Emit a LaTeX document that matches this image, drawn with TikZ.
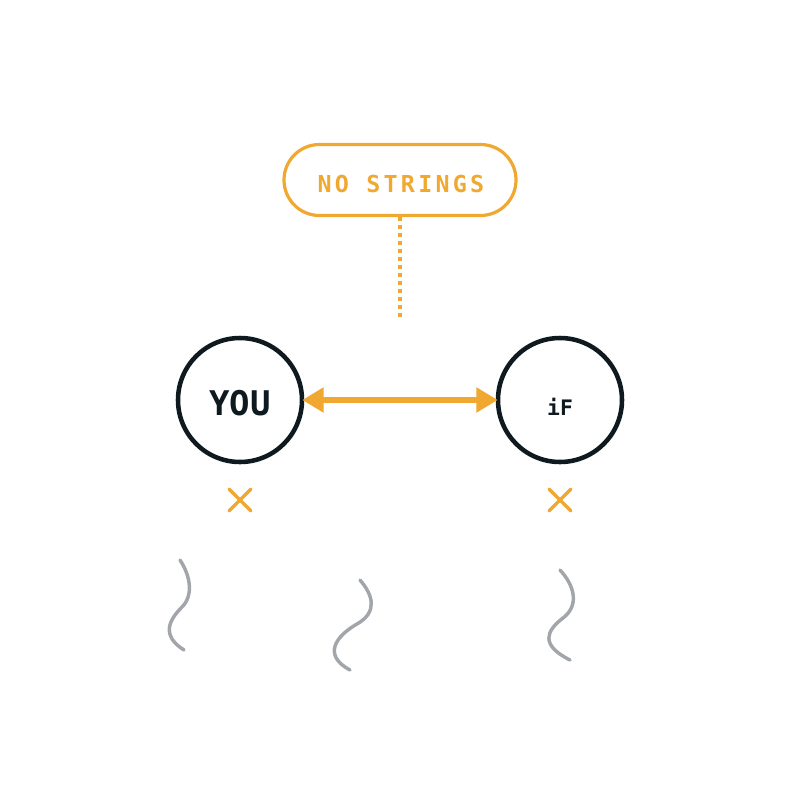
\documentclass[tikz,border=0pt]{standalone}
\usepackage{fontspec}
\setmonofont{DejaVu Sans Mono}
\usetikzlibrary{arrows.meta}
\definecolor{orng}{HTML}{F0A830}
\definecolor{dark}{HTML}{0F1A20}
\definecolor{grayw}{HTML}{A2A6AA}
\begin{document}
\begin{tikzpicture}[x=0.75pt,y=-0.75pt,
  pill/.style={draw=orng,line width=2.4pt,rounded corners=26.6pt,minimum width=174pt,minimum height=53.25pt},
  pilltext/.style={text=orng,font=\ttfamily\bfseries\fontsize{17.5}{18}\selectfont\addfontfeature{LetterSpace=14}},
  person/.style={circle,draw=dark,line width=3.4pt,minimum size=93pt,inner sep=0pt},
  persontext/.style={text=dark,inner sep=0pt},
  xmark/.style={draw=orng,line width=2.6pt,line cap=round},
  wave/.style={draw=grayw,line width=2.6pt,line cap=round},
  link/.style={draw=orng,line width=5pt,{Triangle[length=16pt,width=18pt]}-{Triangle[length=16pt,width=18pt]},shorten <=-1.5pt,shorten >=-1.5pt}
]
\useasboundingbox (0,0) rectangle (800,800);
\node[pill] (ns) at (400,180) {};
\node[pilltext] (nst) at (401,184) {NO STRINGS};
\coordinate (dotend) at (400,320);
\draw[orng,line width=2.6pt,dash pattern=on 3pt off 3pt] (ns.south) -- (dotend);
\node[person] (you) at (240,400) {};
\node[person] (if) at (560,400) {};
\node[persontext,font=\ttfamily\bfseries\fontsize{25.5}{28}\selectfont] (yout) at (240,403) {YOU};
\node[persontext,font=\ttfamily\bfseries\fontsize{16}{18}\selectfont] (ift) at (560,407) {iF};
\draw[link] (you) -- (if);
\coordinate (x1) at (240,500);
\coordinate (x2) at (560,500);
\draw[xmark] ([shift={(-11,-11)}]x1) -- ([shift={(11,11)}]x1) ([shift={(-11,11)}]x1) -- ([shift={(11,-11)}]x1);
\draw[xmark] ([shift={(-11,-11)}]x2) -- ([shift={(11,11)}]x2) ([shift={(-11,11)}]x2) -- ([shift={(11,-11)}]x2);
\draw[wave] (180,560) .. controls (190,575) and (194,595) .. (182,607) .. controls (170,619) and (160,635) .. (184,650);
\draw[wave] (360,580) .. controls (373,595) and (378,612) .. (357,624) .. controls (336,636) and (322,655) .. (350,670);
\draw[wave] (560,570) .. controls (574,585) and (580,605) .. (563,618) .. controls (546,631) and (540,645) .. (570,660);
\end{tikzpicture}
\end{document}
